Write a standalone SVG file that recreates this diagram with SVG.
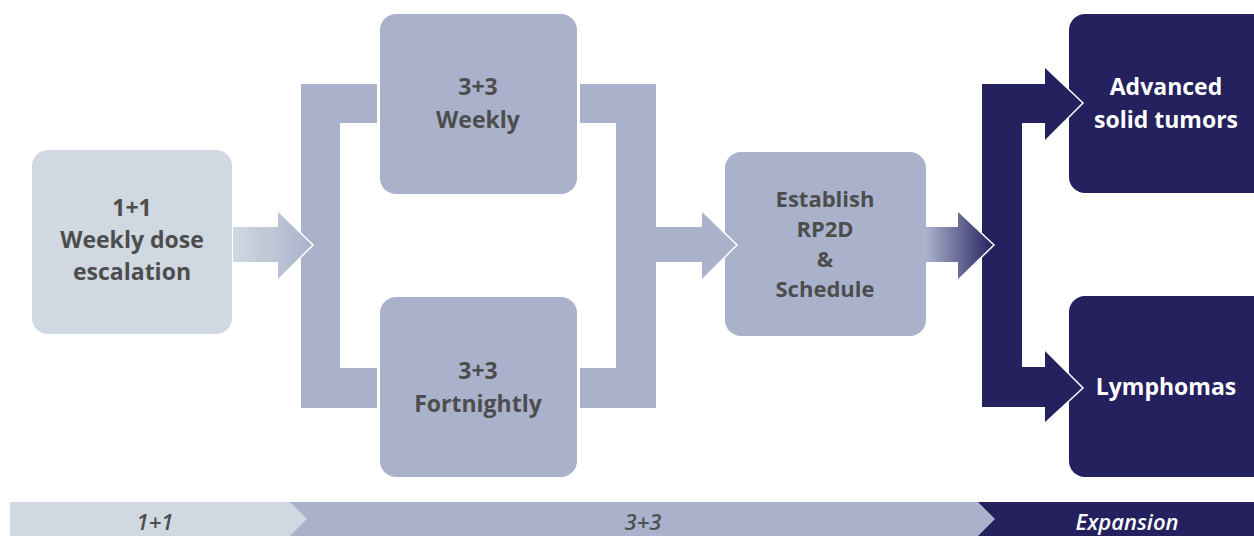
<svg xmlns="http://www.w3.org/2000/svg" width="1254" height="536" viewBox="0 0 1254 536">
<defs>
<linearGradient id="g1" gradientUnits="userSpaceOnUse" x1="233" y1="0" x2="313" y2="0">
<stop offset="0" stop-color="#d0d8e1"/><stop offset="1" stop-color="#aab2cb"/>
</linearGradient>
<linearGradient id="g3" gradientUnits="userSpaceOnUse" x1="926" y1="0" x2="994" y2="0">
<stop offset="0" stop-color="#aab2cb"/><stop offset="1" stop-color="#25215e"/>
</linearGradient>
<style>
.light{fill:#d0d8e1}
.mid{fill:#aab2cb}
.dark{fill:#25205e}
.t{font-family:"Open Sans","Noto Sans",sans-serif;font-weight:700;font-size:23px;text-anchor:middle;fill:#4d4d4d}
.t.s{font-size:22px}
.edge{fill:none;stroke:#ffffff;stroke-width:1.5}
.bar{font-family:"Open Sans","Noto Sans",sans-serif;font-weight:600;font-style:italic;font-size:22px;text-anchor:middle;fill:#4d4d4d}
.t.tw,.bar.tw{fill:#ffffff}
</style>
</defs>
<rect width="1254" height="536" fill="#ffffff"/>

<g id="node-1p1">
<rect class="light" x="32" y="150" width="200" height="184" rx="16"/>
<text class="t" x="132" y="216">1+1</text>
<text class="t" x="132" y="248">Weekly dose</text>
<text class="t" x="132" y="280">escalation</text>
</g>
<g id="node-weekly">
<rect class="mid" x="380" y="14" width="197" height="180" rx="16"/>
<text class="t" x="478" y="95">3+3</text>
<text class="t" x="478" y="128">Weekly</text>
</g>
<g id="node-fortnightly">
<rect class="mid" x="380" y="297" width="197" height="180" rx="16"/>
<text class="t" x="478" y="379">3+3</text>
<text class="t" x="478" y="412">Fortnightly</text>
</g>
<g id="node-rp2d">
<rect class="mid" x="725" y="152" width="201" height="184" rx="16"/>
<text class="t s" x="825" y="207">Establish</text>
<text class="t s" x="825" y="237">RP2D</text>
<text class="t s" x="825" y="267">&amp;</text>
<text class="t s" x="825" y="297">Schedule</text>
</g>
<g id="node-advanced">
<rect class="dark" x="1069" y="14" width="205" height="179" rx="16"/>
<text class="t tw" x="1166" y="95">Advanced</text>
<text class="t tw" x="1166" y="128">solid tumors</text>
</g>
<g id="node-lymphomas">
<rect class="dark" x="1069" y="296" width="205" height="181" rx="16"/>
<text class="t tw" x="1166" y="395">Lymphomas</text>
</g>

<g id="connectors">
<path class="mid" d="M377,84 H301 V408 H377 V368 H340 V123 H377 Z"/>
<path fill="url(#g1)" d="M233,227 H278 V211 L313,245 L278,280 V262 H233 Z"/>
<path class="edge" d="M278,211 L313,245 L278,280"/>
<path class="mid" d="M580,84 H656 V227 H702 V211 L737,245 L702,280 V262 H656 V408 H580 V368 H616 V123 H580 Z"/>
<path class="edge" d="M702,211 L737,245 L702,280"/>
<path class="dark" d="M982,84 H1045 V67 L1083,103 L1045,141 V123 H1022 V367 H1045 V350 L1083,388 L1045,423 V407 H982 Z"/>
<path class="edge" d="M1045,67 L1083,103 L1045,141"/>
<path class="edge" d="M1045,350 L1083,388 L1045,423"/>
<path fill="url(#g3)" d="M926,227 H958 V211 L994,245 L958,280 V262 H926 Z"/>
<path class="edge" d="M958,211 L994,245 L958,280"/>
</g>

<g id="phase-bar">
<rect class="dark" x="978" y="502" width="276" height="34"/>
<path class="mid" d="M288,502 H978 L995,519 L978,536 H288 Z"/>
<path class="light" d="M10,502 H290 L307,519 L290,536 H10 Z"/>
<text class="bar" x="155" y="530">1+1</text>
<text class="bar" x="643" y="530">3+3</text>
<text class="bar tw" x="1127" y="530">Expansion</text>
</g>
</svg>
